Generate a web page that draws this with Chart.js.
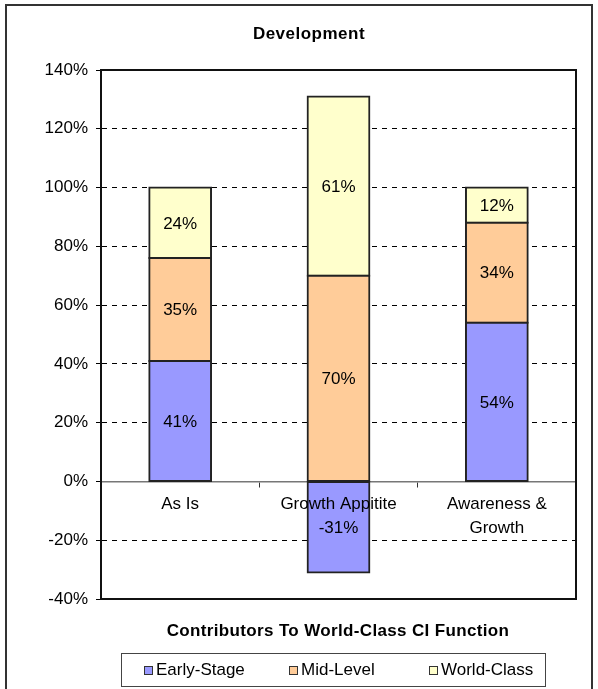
<!DOCTYPE html>
<html>
<head>
<meta charset="utf-8">
<script src="https://cdn.jsdelivr.net/npm/chart.js@4"></script>
<style>
  body { margin: 0; background: #fff; }
  #wrap { position: relative; width: 598px; height: 689px; font-family: "Liberation Sans", Arial, sans-serif; color: #000; }
  #frame { position: absolute; left: 5px; top: 4px; width: 588px; height: 700px; border: 2px solid #333; box-sizing: border-box; }
  canvas { position: absolute; left: 0; top: 0; }
  .ttl { position: absolute; font-weight: bold; font-size: 17px; white-space: nowrap; transform: translateX(-50%); }
  #legend { position: absolute; left: 121px; top: 653px; width: 425px; height: 34px; border: 1px solid #444; box-sizing: border-box; font-size: 17px; white-space: nowrap; }
  .item { position: absolute; top: 0; height: 32px; display: flex; align-items: center; }
  .mark { width: 7px; height: 7px; border: 1px solid #333; margin-right: 3px; flex-shrink: 0; }
</style>
</head>
<body>
<div id="wrap">
  <div id="frame"></div>
  <canvas id="c" width="598" height="689"></canvas>
  <div class="ttl" style="left:309px; top:24px; letter-spacing:0.5px;">Development</div>
  <div class="ttl" style="left:338px; top:621px; letter-spacing:0.35px;">Contributors To World-Class CI Function</div>
  <div id="legend"></div>
</div>
<script>
const categories = ["As Is", "Growth Appitite", ["Awareness &", "Growth"]];
const earlyStage = [41, -31, 54];
const midLevel = [35, 70, 34];
const worldClass = [24, 61, 12];
const seriesNames = ["Early-Stage", "Mid-Level", "World-Class"];
const seriesColors = ["#9999FF", "#FFCC99", "#FFFFCC"];
const yMin = -40, yMax = 140, yStep = 20;

const FONT = "'Liberation Sans', Arial, sans-serif";
Chart.defaults.font.family = FONT;
Chart.defaults.color = "#000";

// segment values written in the middle of each block
const barLabels = {
  id: "barLabels",
  afterDatasetsDraw(chart) {
    const ctx = chart.ctx;
    ctx.save();
    ctx.font = "17px " + FONT;
    ctx.fillStyle = "#000";
    ctx.textAlign = "center";
    ctx.textBaseline = "middle";
    chart.data.datasets.forEach((ds, i) => {
      chart.getDatasetMeta(i).data.forEach((bar, j) => {
        const p = bar.getProps(["x", "y", "base"], true);
        ctx.fillText(ds.data[j] + "%", p.x, (p.y + p.base) / 2 + 1);
      });
    });
    ctx.restore();
  }
};

const plotBorder = {
  id: "plotBorder",
  afterDraw(chart) {
    const a = chart.chartArea, ctx = chart.ctx;
    ctx.save();
    ctx.strokeStyle = "#111";
    ctx.lineWidth = 2;
    ctx.strokeRect(a.left, a.top, a.right - a.left, a.bottom - a.top);
    ctx.restore();
  }
};

const data = [earlyStage, midLevel, worldClass];

new Chart(document.getElementById("c"), {
  type: "bar",
  data: {
    labels: categories,
    datasets: data.map((d, i) => ({
      label: seriesNames[i],
      data: d,
      backgroundColor: seriesColors[i],
      borderColor: "#222",
      borderWidth: 2,
      borderSkipped: false,
      inflateAmount: 1,
      barPercentage: 0.39,
      categoryPercentage: 1,
    })),
  },
  options: {
    responsive: false,
    animation: false,
    layout: { padding: { top: 70, bottom: 90, left: 0, right: 22 } },
    plugins: { legend: { display: false }, title: { display: false }, tooltip: { enabled: false } },
    scales: {
      x: {
        stacked: true,
        position: { y: 0 },
        offset: true,
        grid: { display: true, drawOnChartArea: false, drawTicks: true, tickLength: 5, tickColor: "#333", offset: true },
        border: { display: true, color: "#777", width: 1.5 },
        ticks: { z: 1, autoSkip: false, maxRotation: 0, padding: 6, font: { size: 17, lineHeight: 1.4 }, color: "#000" },
      },
      y: {
        stacked: true,
        min: yMin,
        max: yMax,
        afterFit(scale) { scale.width = 101; },
        grid: {
          color: c => (c.tick && [0, yMin, yMax].includes(c.tick.value)) ? "rgba(0,0,0,0)" : "#000",
          tickColor: "#000",
          tickLength: 5,
          tickBorderDash: [],
          lineWidth: 1,
        },
        border: { display: true, color: "#111", width: 2, dash: [5, 5] },
        ticks: { stepSize: yStep, padding: 8, font: { size: 17 }, color: "#000", callback: v => v + "%" },
      },
    },
  },
  plugins: [barLabels, plotBorder],
});

const legendLeft = [22, 167, 307];
const legend = document.getElementById("legend");
seriesNames.forEach((n, i) => {
  const it = document.createElement("div");
  it.className = "item";
  it.style.left = legendLeft[i] + "px";
  it.innerHTML = `<span class="mark" style="background:${seriesColors[i]}"></span><span>${n}</span>`;
  legend.appendChild(it);
});
</script>
</body>
</html>
